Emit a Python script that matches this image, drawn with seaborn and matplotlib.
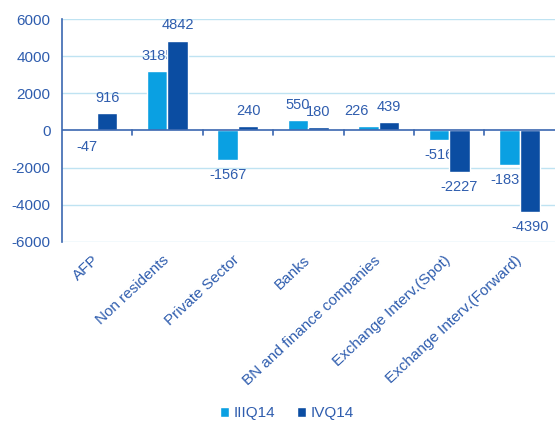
import matplotlib
matplotlib.use("Agg")
import matplotlib.pyplot as plt
import seaborn as sns
import pandas as pd
import numpy as np

categories = ["AFP", "Non residents", "Private Sector", "Banks",
              "BN and finance companies", "Exchange Interv.(Spot)",
              "Exchange Interv.(Forward)"]
q3_values = [-47, 3185, -1567, 550, 226, -516, -1835]
q4_values = [916, 4842, 240, 180, 439, -2227, -4390]
series = ["IIIQ14", "IVQ14"]
yticks = [-6000, -4000, -2000, 0, 2000, 4000, 6000]

colors = ["#0AA0E2", "#0B4DA2"]
text_color = "#2F5DAE"
grid_color = "#BFE3F2"
axis_color = "#3B67B0"

df = pd.DataFrame({
    "category": categories * 2,
    "series": [series[0]] * len(categories) + [series[1]] * len(categories),
    "value": q3_values + q4_values,
})

sns.set_theme(style="white")
plt.rcParams["font.family"] = ["Liberation Sans", "DejaVu Sans"]

fig = plt.figure(figsize=(5.57, 4.23), dpi=100)
ax = fig.add_axes([0.111, 0.428, 0.885, 0.527])

sns.barplot(data=df, x="category", y="value", hue="series", order=categories,
            hue_order=series, palette=colors, width=0.58, saturation=1,
            ax=ax, legend=True, zorder=3)

ax.set_ylim(-6000, 6000)
ax.set_xlim(-0.5, len(categories) - 0.5)
ax.set_yticks(yticks)
ax.set_yticklabels([str(t) for t in yticks], color=text_color, fontsize=11)
ax.tick_params(axis="y", length=0, pad=8)
ax.set_xlabel("")
ax.set_ylabel("")

# horizontal grid
for t in yticks:
    if t != 0:
        ax.axhline(t, color=grid_color, lw=1, zorder=0)
ax.axhline(0, color=axis_color, lw=1.2, zorder=4)

for s in ["top", "right", "bottom"]:
    ax.spines[s].set_visible(False)
ax.spines["left"].set_color(axis_color)
ax.spines["left"].set_linewidth(1.2)

# category boundary ticks on the zero line
for b in np.arange(0.5, len(categories) - 0.5, 1):
    ax.plot([b, b], [0, -230], color=axis_color, lw=1.2, zorder=4, clip_on=False)

ax.set_xticks(range(len(categories)))
ax.set_xticklabels([])
ax.tick_params(axis="x", length=0)
for i, c in enumerate(categories):
    ax.text(i - 0.07, -6600, c, rotation=43, ha="right", va="top",
            rotation_mode="anchor", color=text_color, fontsize=11)

# value labels, drawn underneath the bars; nudge crowded ones sideways
label_dx = {(0, 4): -0.17}
for si, (container, vals) in enumerate(zip(ax.containers, [q3_values, q4_values])):
    for ci, (patch, v) in enumerate(zip(container.patches, vals)):
        x = patch.get_x() + patch.get_width() / 2 + label_dx.get((si, ci), 0)
        if v >= 0:
            ax.text(x, v + 450, f"{v}", ha="center", va="bottom",
                    color=text_color, fontsize=10.5, zorder=2)
        else:
            ax.text(x, v - 450, f"{v}", ha="center", va="top",
                    color=text_color, fontsize=10.5, zorder=2)

leg = ax.legend(loc="upper center", bbox_to_anchor=(0.457, -0.675), ncol=2,
                frameon=False, fontsize=11, handlelength=0.6, handleheight=0.6,
                handletextpad=0.3, columnspacing=1.4)
for t in leg.get_texts():
    t.set_color(text_color)

fig.savefig("out.png", dpi=100)
